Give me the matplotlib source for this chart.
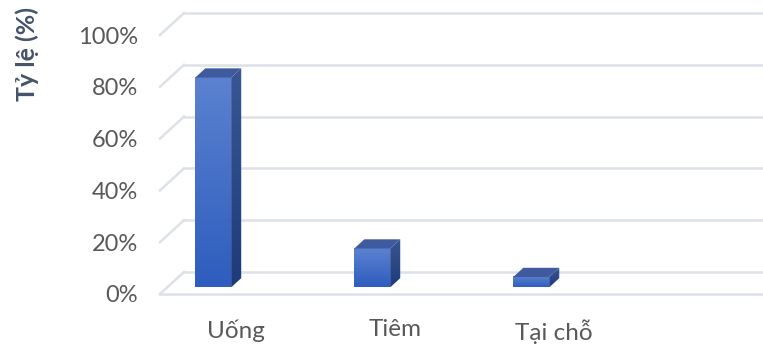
import numpy as np
import matplotlib.pyplot as plt
from matplotlib.patches import Polygon
from matplotlib.colors import LinearSegmentedColormap

plt.rcParams['font.family'] = ['Lato', 'DejaVu Sans']

# data
categories = ['Uống', 'Tiêm', 'Tại chỗ']
values = [0.81, 0.15, 0.04]
ticks = [0, 0.2, 0.4, 0.6, 0.8, 1.0]
tick_labels = ['0%', '20%', '40%', '60%', '80%', '100%']

W, H = 763, 347
fig = plt.figure(figsize=(W / 100, H / 100), dpi=100)
ax = fig.add_axes([160 / W, (H - 294) / H, (W - 160) / W, 259 / H])
xmin, xmax = -0.289, 3.503
ax.set_xlim(xmin, xmax)
ax.set_ylim(0, 1)
for s in ax.spines.values():
    s.set_visible(False)

# fake 3d depth of the floor / back wall
ddx, ddy = 0.151, 0.085
grid_c = '#DDE1E8'
for t in ticks:
    ax.plot([xmin, xmin + ddx], [t, t + ddy], color=grid_c, lw=1.8, clip_on=False, zorder=1)
    ax.plot([xmin + ddx, xmax + 1], [t + ddy, t + ddy], color=grid_c, lw=1.8, clip_on=False, zorder=1)
ax.plot([xmin, xmax + 1], [0, 0], color=grid_c, lw=1.8, clip_on=False, zorder=1)

front_cm = LinearSegmentedColormap.from_list('front', ['#2E5DBE', '#5B82D0'])
side_cm = LinearSegmentedColormap.from_list('side', ['#1D3B7C', '#3A5694'])
grad = np.linspace(0, 1, 100).reshape(-1, 1)

bw = 0.226
f0 = 0.3
bd = 0.42
for i, v in enumerate(values):
    x0 = i - bw / 2 + f0 * ddx
    x1 = x0 + bw
    y0 = f0 * ddy
    y1 = y0 + v
    ex, ey = bd * ddx, bd * ddy
    ax.imshow(grad, cmap=front_cm, origin='lower', aspect='auto',
              extent=[x0, x1, y0, y1], zorder=3, interpolation='bilinear')
    side = Polygon([(x1, y0), (x1 + ex, y0 + ey), (x1 + ex, y1 + ey), (x1, y1)],
                   closed=True, fc='none', ec='none')
    ax.add_patch(side)
    im = ax.imshow(grad, cmap=side_cm, origin='lower', aspect='auto',
                   extent=[x1, x1 + ex, y0, y1 + ey], zorder=3, interpolation='bilinear')
    im.set_clip_path(side)
    top = Polygon([(x0, y1), (x1, y1), (x1 + ex, y1 + ey), (x0 + ex, y1 + ey)],
                  closed=True, fc='#3F5B9D', ec='none', zorder=3)
    ax.add_patch(top)

ax.set_xlim(xmin, xmax)
ax.set_ylim(0, 1)

ax.set_yticks(ticks, tick_labels)
ax.set_xticks(np.arange(len(categories)) + 0.19, categories)
ax.tick_params(axis='y', length=0, pad=16, labelsize=17, labelcolor='#595959')
ax.tick_params(axis='x', length=0, pad=18, labelsize=17.5, labelcolor='#595959')

fig.text(27 / W, 1 - 54 / H, 'Tỷ lệ (%)', rotation=90, ha='center', va='center',
         fontsize=18, fontweight='bold', color='#44546A')

plt.savefig('out.png', dpi=100)
